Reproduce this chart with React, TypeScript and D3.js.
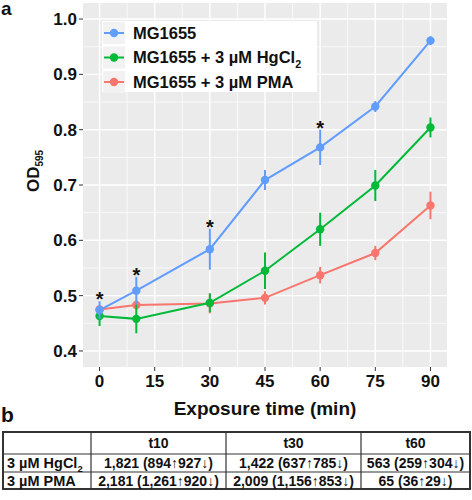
import React from "react";
import * as d3 from "d3";

const times = [0, 10, 30, 45, 60, 75, 90];
const seriesNames = ["MG1655", "MG1655 + 3 µM HgCl2", "MG1655 + 3 µM PMA"];
const mgMean = [0.474, 0.509, 0.584, 0.709, 0.768, 0.842, 0.961];
const mgErr = [0.016, 0.025, 0.037, 0.018, 0.032, 0.01, 0.008];
const hgMean = [0.463, 0.458, 0.487, 0.545, 0.62, 0.699, 0.804];
const hgErr = [0.018, 0.026, 0.017, 0.033, 0.03, 0.028, 0.018];
const pmaMean = [0.475, 0.483, 0.486, 0.496, 0.537, 0.577, 0.663];
const pmaErr = [0.008, 0.008, 0.018, 0.012, 0.015, 0.013, 0.025];
const signifTimes = [0, 10, 30, 60];
const xTicks = [0, 15, 30, 45, 60, 75, 90];
const yTicks = [0.4, 0.5, 0.6, 0.7, 0.8, 0.9, 1.0];

const tableHeader = ["", "t10", "t30", "t60"];
const tableRowLabels = ["3 µM HgCl2", "3 µM PMA"];
const tableTotals = [
  ["1,821", "1,422", "563"],
  ["2,181", "2,009", "65"],
];
const tableUp = [
  ["894", "637", "259"],
  ["1,261", "1,156", "36"],
];
const tableDown = [
  ["927", "785", "304"],
  ["920", "853", "29"],
];

const colors = ["#619CFF", "#00BA38", "#F8766D"];
const FONT = "'Liberation Sans', Arial, sans-serif";

export default function App() {
  const W = 472, H = 500;
  const pl = 83, pr = 447, pt = 3, pb = 367;
  const x = d3.scaleLinear().domain([-4.5, 94.5]).range([pl, pr]);
  const y = d3.scaleLinear().domain([0.371, 1.029]).range([pb, pt]);
  const means = [mgMean, hgMean, pmaMean];
  const errs = [mgErr, hgErr, pmaErr];
  const line = d3.line<[number, number]>().x((d) => x(d[0])).y((d) => y(d[1]));

  const minorX = d3.range(0, 6).map((i) => 7.5 + 15 * i);
  const minorY = d3.range(0, 6).map((i) => 0.45 + 0.1 * i);
  const drawOrder = [2, 1, 0];

  const cols = [3, 91, 226, 361, 470];
  const rows = [432, 454, 472, 489];

  const renderLabel = (s: string, fs: number) => {
    if (s.endsWith("HgCl2")) {
      return (
        <>
          {s.slice(0, -1)}
          <tspan fontSize={fs * 0.65} dy={fs * 0.25}>2</tspan>
        </>
      );
    }
    return s;
  };

  return (
    <svg width={W} height={H} style={{ position: "absolute", left: 0, top: 0, background: "#fff" }} fontFamily={FONT}>
      <rect x={pl} y={pt} width={pr - pl} height={pb - pt} fill="#EBEBEB" />
      {minorX.map((t) => (
        <line key={"mx" + t} x1={x(t)} x2={x(t)} y1={pt} y2={pb} stroke="#fff" strokeWidth={0.7} />
      ))}
      {minorY.filter((v) => y(v) > pt && y(v) < pb).map((v) => (
        <line key={"my" + v} x1={pl} x2={pr} y1={y(v)} y2={y(v)} stroke="#fff" strokeWidth={0.7} />
      ))}
      {xTicks.map((t) => (
        <line key={"gx" + t} x1={x(t)} x2={x(t)} y1={pt} y2={pb} stroke="#fff" strokeWidth={1.4} />
      ))}
      {yTicks.map((v) => (
        <line key={"gy" + v} x1={pl} x2={pr} y1={y(v)} y2={y(v)} stroke="#fff" strokeWidth={1.4} />
      ))}

      {drawOrder.map((si) => (
        <g key={"s" + si}>
          <path
            d={line(times.map((t, i) => [t, means[si][i]]) as [number, number][]) || ""}
            fill="none"
            stroke={colors[si]}
            strokeWidth={2}
          />
          {times.map((t, i) => (
            <line
              key={"e" + i}
              x1={x(t)}
              x2={x(t)}
              y1={y(means[si][i] - errs[si][i])}
              y2={y(means[si][i] + errs[si][i])}
              stroke={colors[si]}
              strokeWidth={2}
            />
          ))}
          {times.map((t, i) => (
            <circle key={"p" + i} cx={x(t)} cy={y(means[si][i])} r={4.2} fill={colors[si]} />
          ))}
        </g>
      ))}

      {signifTimes.map((t) => {
        const i = times.indexOf(t);
        return (
          <text key={"a" + t} x={x(t)} y={y(mgMean[i] + mgErr[i]) + 5} textAnchor="middle" fontSize={20} fontWeight="bold" fill="#111">
            *
          </text>
        );
      })}

      {yTicks.map((v) => (
        <g key={"yt" + v}>
          <line x1={pl - 4} x2={pl} y1={y(v)} y2={y(v)} stroke="#333" strokeWidth={1} />
          <text x={pl - 6} y={y(v)} dy="0.36em" textAnchor="end" fontSize={17} fontWeight="bold" fill="#111">
            {v.toFixed(1)}
          </text>
        </g>
      ))}
      {xTicks.map((t) => (
        <g key={"xt" + t}>
          <line x1={x(t)} x2={x(t)} y1={pb} y2={pb + 4} stroke="#333" strokeWidth={1} />
          <text x={x(t)} y={pb + 20} textAnchor="middle" fontSize={17} fontWeight="bold" fill="#111">
            {t}
          </text>
        </g>
      ))}
      <text x={(pl + pr) / 2} y={415} textAnchor="middle" fontSize={19} fontWeight="bold" fill="#111">
        Exposure time (min)
      </text>
      <text transform={`translate(39,171) rotate(-90)`} textAnchor="middle" fontSize={17} fontWeight="bold" fill="#111">
        OD<tspan fontSize={10} dy={4}>595</tspan>
      </text>

      <rect x={102} y={21} width={215} height={71} fill="#fff" />
      {seriesNames.map((s, i) => {
        const cy = 33 + i * 24.5;
        return (
          <g key={"l" + i}>
            <rect x={103} y={cy - 11} width={22} height={22} fill="#F2F2F2" />
            <line x1={104} x2={124} y1={cy} y2={cy} stroke={colors[i]} strokeWidth={2} />
            <circle cx={114} cy={cy} r={4.2} fill={colors[i]} />
            <text x={133} y={cy} dy="0.36em" fontSize={16.5} fontWeight="bold" fill="#111">
              {renderLabel(s, 16.5)}
            </text>
          </g>
        );
      })}

      <text x={1} y={15} fontSize={19} fontWeight="bold" fill="#111">a</text>
      <text x={1} y={422} fontSize={21} fontWeight="bold" fill="#111">b</text>

      {rows.slice(1, -1).map((r) => (
        <line key={"tr" + r} x1={cols[0]} x2={cols[4]} y1={r} y2={r} stroke="#333" strokeWidth={1.2} />
      ))}
      {cols.slice(1, -1).map((c) => (
        <line key={"tc" + c} x1={c} x2={c} y1={rows[0]} y2={rows[3]} stroke="#333" strokeWidth={1.2} />
      ))}
      <rect x={cols[0]} y={rows[0]} width={cols[4] - cols[0]} height={rows[3] - rows[0]} fill="none" stroke="#333" strokeWidth={2} />
      {tableHeader.map((h, j) =>
        h ? (
          <text key={"th" + j} x={(cols[j] + cols[j + 1]) / 2} y={(rows[0] + rows[1]) / 2} dy="0.36em" textAnchor="middle" fontSize={14} fontWeight="bold" fill="#111">
            {h}
          </text>
        ) : null
      )}
      {tableRowLabels.map((lab, r) => {
        const cy = (rows[r + 1] + rows[r + 2]) / 2;
        return (
          <g key={"row" + r}>
            <text x={cols[0] + 4} y={cy} dy="0.36em" fontSize={14.5} fontWeight="bold" fill="#111">
              {renderLabel(lab, 14.5)}
            </text>
            {tableTotals[r].map((tot, c) => (
              <text key={"c" + c} x={(cols[c + 1] + cols[c + 2]) / 2} y={cy} dy="0.36em" textAnchor="middle" fontSize={14} fontWeight="bold" fill="#111">
                {`${tot} (${tableUp[r][c]}↑${tableDown[r][c]}↓)`}
              </text>
            ))}
          </g>
        );
      })}
    </svg>
  );
}
